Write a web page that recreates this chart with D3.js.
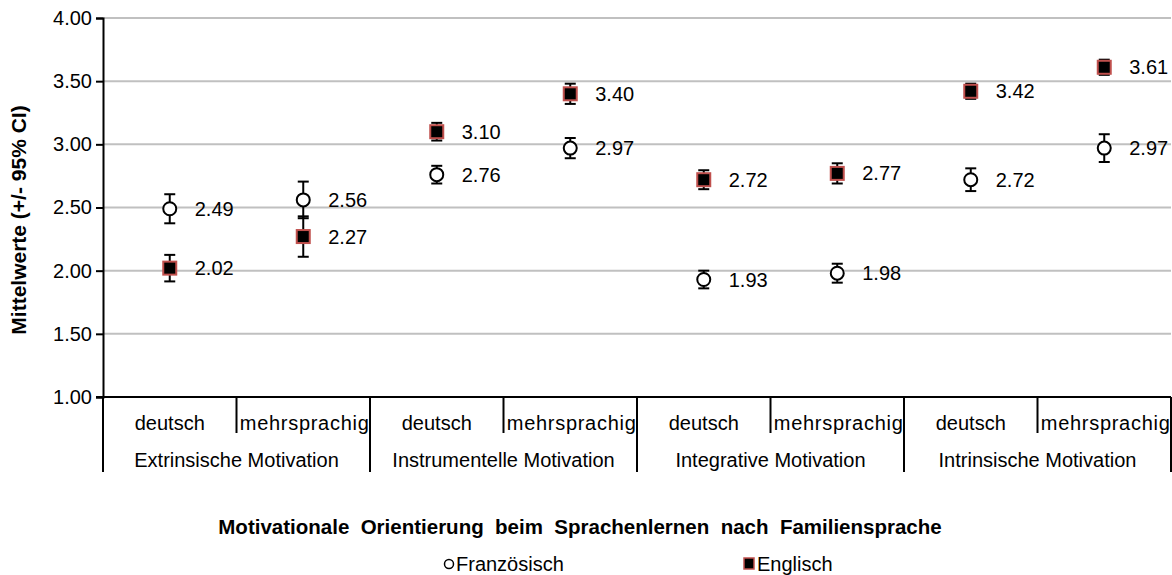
<!DOCTYPE html>
<html>
<head>
<meta charset="utf-8">
<script src="https://cdn.jsdelivr.net/npm/d3@7"></script>
<style>
  html, body { margin: 0; padding: 0; background: #fff; }
  svg { display: block; font-family: "Liberation Sans", Arial, sans-serif; }
</style>
</head>
<body>
<svg id="chart" width="1172" height="575"></svg>
<script>
// motivation groups and family language per group
var groups = ["Extrinsische Motivation", "Instrumentelle Motivation", "Integrative Motivation", "Intrinsische Motivation"];
var subgroups = ["deutsch", "mehrsprachig"];
var yTicks = [1.00, 1.50, 2.00, 2.50, 3.00, 3.50, 4.00];

// means and half-width of the 95% CI, one per group x subgroup
var frMean = [2.49, 2.56, 2.76, 2.97, 1.93, 1.98, 2.72, 2.97];
var frCI   = [0.115, 0.145, 0.07, 0.08, 0.07, 0.075, 0.09, 0.11];
var enMean = [2.02, 2.27, 3.10, 3.40, 2.72, 2.77, 3.42, 3.61];
var enCI   = [0.105, 0.16, 0.07, 0.08, 0.075, 0.08, 0.06, 0.06];

var seriesNames = ["Französisch", "Englisch"];

var svg = d3.select("#chart"),
    margin = { left: 103, right: 1171, top: 18, bottom: 397 };

var slots = [];
groups.forEach(function (g, gi) {
    subgroups.forEach(function (s, si) {
        slots.push({ key: gi + "-" + si, group: g, sub: s, gi: gi, si: si });
    });
});

var x = d3.scaleBand()
    .domain(slots.map(function (d) { return d.key; }))
    .range([margin.left, margin.right])
    .padding(0);
var y = d3.scaleLinear()
    .domain([1, 4])
    .range([margin.bottom, margin.top]);

// gridlines
svg.append("g")
    .selectAll("line")
    .data(yTicks.filter(function (t) { return t > 1; }))
    .enter().append("line")
    .attr("x1", margin.left).attr("x2", margin.right)
    .attr("y1", function (d) { return y(d); })
    .attr("y2", function (d) { return y(d); })
    .attr("stroke", "#c0c0c0")
    .attr("stroke-width", 2);

// y axis
var yAxis = svg.append("g")
    .attr("transform", "translate(" + margin.left + ",0)")
    .call(d3.axisLeft(y).tickValues(yTicks).tickFormat(d3.format(".2f")).tickSize(7).tickPadding(4));
yAxis.select(".domain").attr("stroke", "#000").attr("stroke-width", 2);
yAxis.selectAll(".tick line").attr("stroke", "#000").attr("stroke-width", 2);
yAxis.selectAll(".tick text")
    .attr("font-size", 20).attr("fill", "#000")
    .attr("font-family", "Liberation Sans, Arial, sans-serif");

// category axis
var cat = svg.append("g");
cat.append("line")
    .attr("x1", margin.left - 7).attr("x2", margin.right)
    .attr("y1", margin.bottom).attr("y2", margin.bottom)
    .attr("stroke", "#000").attr("stroke-width", 2);
var bounds = slots.map(function (d) { return { xv: x(d.key), major: d.si === 0 }; });
bounds.push({ xv: margin.right, major: true });
cat.selectAll("line.tick")
    .data(bounds)
    .enter().append("line")
    .attr("class", "tick")
    .attr("x1", function (d) { return d.xv; })
    .attr("x2", function (d) { return d.xv; })
    .attr("y1", margin.bottom)
    .attr("y2", function (d) { return d.major ? 472 : 433; })
    .attr("stroke", "#000").attr("stroke-width", 2);
cat.selectAll("text.sub")
    .data(slots)
    .enter().append("text")
    .attr("class", "sub")
    .attr("x", function (d) { return x(d.key) + x.bandwidth() / 2 + (d.si === 1 ? 1 : 0); })
    .attr("y", 430)
    .attr("text-anchor", "middle")
    .attr("font-size", 20)
    .attr("textLength", function (d) { return d.si === 1 ? 129 : null; })
    .text(function (d) { return d.sub; });
cat.selectAll("text.grp")
    .data(groups)
    .enter().append("text")
    .attr("class", "grp")
    .attr("x", function (d, i) { return x(i + "-0") + x.bandwidth(); })
    .attr("y", 467)
    .attr("text-anchor", "middle")
    .attr("font-size", 20)
    .text(function (d) { return d; });

// axis titles
svg.append("text")
    .attr("transform", "translate(26,220) rotate(-90)")
    .attr("text-anchor", "middle")
    .attr("font-size", 21)
    .attr("font-weight", "bold")
    .text("Mittelwerte (+/- 95% CI)");
svg.append("text")
    .attr("x", 580).attr("y", 534)
    .attr("text-anchor", "middle")
    .attr("font-size", 20.5)
    .attr("font-weight", "bold")
    .attr("xml:space", "preserve")
    .style("white-space", "pre")
    .text("Motivationale  Orientierung  beim  Sprachenlernen  nach  Familiensprache");

// series
function drawSeries(mean, ci, kind) {
    var g = svg.append("g");
    var pts = slots.map(function (d, i) { return { cx: x(d.key) + x.bandwidth() / 2, m: mean[i], c: ci[i] }; });
    var eb = g.selectAll("g.err").data(pts).enter().append("g").attr("class", "err")
        .attr("stroke", "#000").attr("stroke-width", 2);
    eb.append("line")
        .attr("x1", function (d) { return d.cx; }).attr("x2", function (d) { return d.cx; })
        .attr("y1", function (d) { return y(d.m - d.c); }).attr("y2", function (d) { return y(d.m + d.c); });
    [-1, 1].forEach(function (s) {
        eb.append("line")
            .attr("x1", function (d) { return d.cx - 5.5; }).attr("x2", function (d) { return d.cx + 5.5; })
            .attr("y1", function (d) { return y(d.m + s * d.c); }).attr("y2", function (d) { return y(d.m + s * d.c); });
    });
    if (kind === "circle") {
        g.selectAll("circle").data(pts).enter().append("circle")
            .attr("cx", function (d) { return d.cx; })
            .attr("cy", function (d) { return y(d.m); })
            .attr("r", 6.5)
            .attr("fill", "#fff").attr("stroke", "#000").attr("stroke-width", 2);
    } else {
        g.selectAll("rect").data(pts).enter().append("rect")
            .attr("x", function (d) { return d.cx - 6.5; })
            .attr("y", function (d) { return y(d.m) - 6.5; })
            .attr("width", 13).attr("height", 13)
            .attr("fill", "#000").attr("stroke", "#c0504d").attr("stroke-width", 2);
    }
    g.selectAll("text").data(pts).enter().append("text")
        .attr("x", function (d) { return d.cx + 25; })
        .attr("y", function (d) { return y(d.m) + 7; })
        .attr("font-size", 20)
        .text(function (d) { return d.m.toFixed(2); });
}
drawSeries(frMean, frCI, "circle");
drawSeries(enMean, enCI, "square");

// legend
var legend = svg.append("g");
legend.append("circle")
    .attr("cx", 449).attr("cy", 564).attr("r", 4.5)
    .attr("fill", "#fff").attr("stroke", "#000").attr("stroke-width", 1.5);
legend.append("text")
    .attr("x", 456).attr("y", 571).attr("font-size", 20)
    .text(seriesNames[0]);
legend.append("rect")
    .attr("x", 744).attr("y", 558).attr("width", 10).attr("height", 11)
    .attr("fill", "#000").attr("stroke", "#c0504d").attr("stroke-width", 1.5);
legend.append("text")
    .attr("x", 757).attr("y", 571).attr("font-size", 20)
    .text(seriesNames[1]);
</script>
</body>
</html>
